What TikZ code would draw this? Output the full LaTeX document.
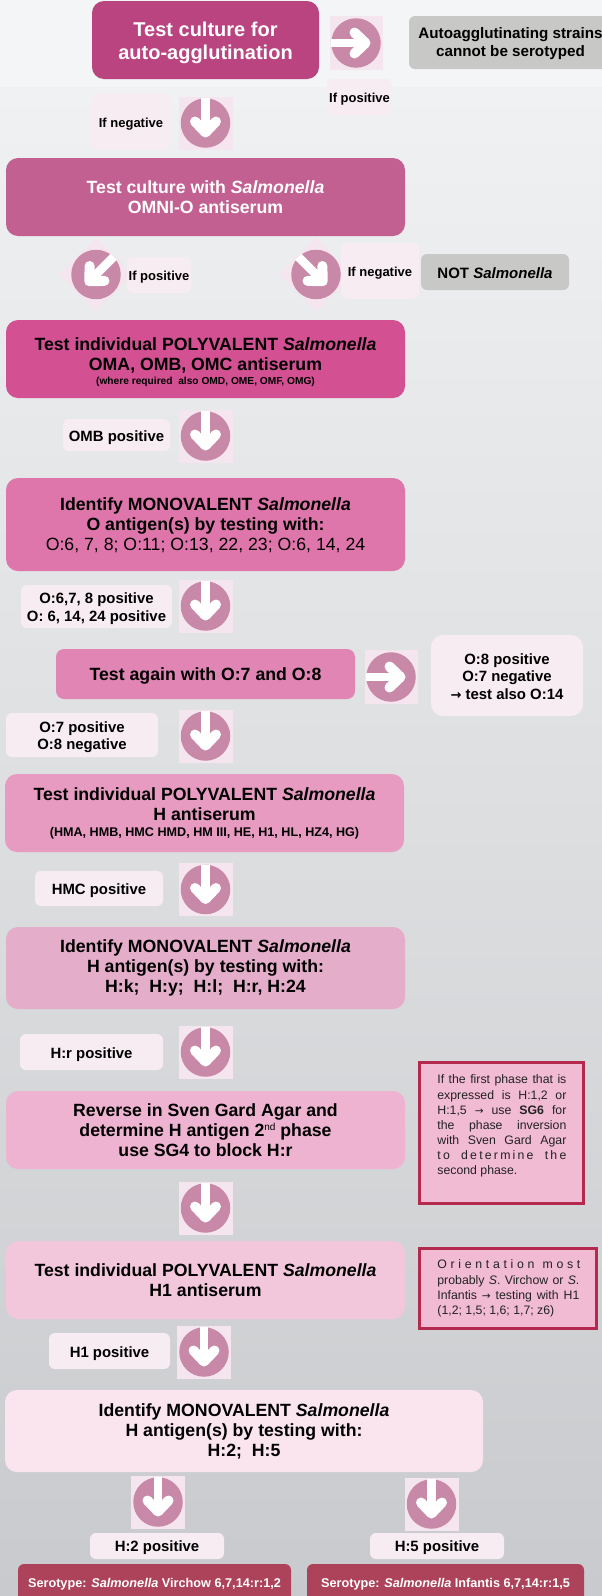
\documentclass[tikz,border=0pt]{standalone}
\usepackage{fontspec}
\setmainfont{Liberation Sans}
\newfontfamily\arrowf{DejaVu Sans}
\definecolor{bandtop}{HTML}{F3F5F6}
\definecolor{bgtop}{HTML}{F0F1F2}
\definecolor{bgbot}{HTML}{C8CACD}
\definecolor{iconbg}{HTML}{F5E5EE}
\definecolor{iconfg}{HTML}{C888A8}
\definecolor{labelbg}{HTML}{F7ECF1}
\definecolor{greybox}{HTML}{C8C8C6}
\definecolor{notebg}{HTML}{F2BBD4}
\definecolor{noteln}{HTML}{B5294F}
\definecolor{serot}{HTML}{AD435B}
\definecolor{notetx}{HTML}{222222}
\newcommand{\sal}{\textit{Salmonella}}
\newcommand{\arw}{{\arrowf\fontsize{10.5}{10}\selectfont →}}
\newcommand{\flowbox}[8][0]{%
  \pgfmathsetmacro\fbw{#5-#3}\pgfmathsetmacro\fbh{#6-#4}%
  \pgfmathsetmacro\fbx{(#5+#3)/2}\pgfmathsetmacro\fby{(#6+#4)/2}%
  \node[#7,minimum width=\fbw pt,minimum height=\fbh pt] (#2) at (\fbx,\fby) {};
  \node[#7,fill=none,draw=none,yshift=-#1pt] (#2t) at (\fbx,\fby) {#8};}
\newcommand{\arrowicon}[5][27]{%
  \begin{scope}[shift={(#3,#4)},rotate=#5]
    \fill[iconbg] (-#1,-26.5) rectangle (#1,26.5);
    \node[iconcirc] (#2) at (0,0) {};
    \draw[iconstem] (0,-25) -- (0,8);
    \draw[iconhead] (-10.5,-1.5) -- (0,9.5) -- (10.5,-1.5);
  \end{scope}}
\tikzset{
  x=1pt,y=-1pt,
  iconcirc/.style={circle,fill=iconfg,minimum size=49.5pt,inner sep=0,outer sep=0},
  iconstem/.style={white,line width=8.5pt},
  iconhead/.style={white,line width=10pt,line join=round,line cap=round},
  base/.style={rounded corners=#1,inner sep=0,outer sep=0,align=center,text=black},
  flow/.style={base=12pt,font=\fontsize{17.7}{20}\selectfont\bfseries},
  lab/.style={base=6pt,fill=labelbg,font=\fontsize{13}{15}\selectfont\bfseries},
  labwide/.style={lab,font=\fontsize{14.9}{17.5}\selectfont\bfseries},
  grey/.style={base=6pt,fill=greybox,font=\fontsize{15.2}{18}\selectfont\bfseries},
  noteb/.style={draw=noteln,line width=3pt,fill=notebg,inner sep=0,outer sep=0},
  notet/.style={inner sep=0,outer sep=0,anchor=north west,align=left,text=notetx,font=\fontsize{12.3}{15.1}\selectfont},
  sero/.style={base=6pt,fill=serot,text=white,font=\fontsize{12.7}{14}\selectfont\bfseries},
}
\begin{document}
\begin{tikzpicture}
\useasboundingbox (0,0) rectangle (602,1596);
\clip (0,0) rectangle (602,1596);
\shade[top color=bgtop,bottom color=bgbot] (0,87) rectangle (602,1596);
\fill[bandtop] (0,0) rectangle (602,87);

\arrowicon{i1}{356}{43}{90}
\arrowicon{i2}{205.5}{123}{0}
\arrowicon[26]{i3}{96}{274.5}{-45}
\arrowicon[26]{i4}{316}{274.5}{45}
\arrowicon{i5}{205.5}{436}{0}
\arrowicon{i6}{205.5}{606}{0}
\arrowicon{i7}{391}{677}{90}
\arrowicon{i8}{205.5}{736}{0}
\arrowicon{i9}{205.5}{889.5}{0}
\arrowicon{i10}{205.5}{1052}{0}
\arrowicon{i11}{205.5}{1208}{0}
\arrowicon{i12}{204}{1352}{0}
\arrowicon{i13}{158}{1502}{0}
\arrowicon{i14}{431.5}{1504}{0}

\flowbox[3]{b1}{92}{1}{319}{79}{flow,fill={rgb,255:red,185;green,68;blue,127},text=white,font=\fontsize{20}{23}\selectfont\bfseries}{Test culture for\\auto-agglutination}
\flowbox[1]{g1}{409}{16}{612}{69}{grey}{Autoagglutinating strains\\cannot be serotyped}
\flowbox[2.5]{l1}{327}{79}{392}{115}{lab}{If positive}
\flowbox[2.5]{l2}{92}{94}{170}{150}{lab}{If negative}
\flowbox{b2}{6}{158}{405}{236}{flow,fill={rgb,255:red,194;green,96;blue,146},text=white}{Test culture with \sal\\OMNI-O antiserum}
\flowbox[2.5]{l3}{127}{257}{191}{293}{lab}{If positive}
\flowbox[2.5]{l4}{341}{243}{419}{299}{lab}{If negative}
\flowbox[1]{g2}{421}{254}{569}{290}{grey,font=\fontsize{15}{18}\selectfont\bfseries}{NOT \sal}
\flowbox[3]{b3}{6}{320}{405}{398}{flow,fill={rgb,255:red,211;green,80;blue,147}}{Test individual POLYVALENT \sal\\OMA, OMB, OMC antiserum\\[-6pt]{\fontsize{10.2}{11}\selectfont (where required\ \ also OMD, OME, OMF, OMG)}}
\flowbox[2.5]{l5}{63}{419}{170}{451}{labwide}{OMB positive}
\flowbox[1]{b4}{6}{478}{405}{571}{flow,fill={rgb,255:red,223;green,118;blue,171}}{Identify MONOVALENT \sal\\O antigen(s) by testing with:\\{\mdseries O:6, 7, 8; O:11; O:13, 22, 23; O:6, 14, 24}}
\flowbox[2]{l6}{21}{585}{172}{628}{labwide}{O:6,7, 8 positive\\O: 6, 14, 24 positive}
\flowbox[2]{b5}{56}{649}{355}{699}{flow,base=8pt,fill={rgb,255:red,225;green,133;blue,181}}{Test again with O:7 and O:8}
\flowbox[1]{l7}{431}{635}{583}{716}{labwide,base=12pt}{O:8 positive\\O:7 negative\\{\arrowf\fontsize{13}{10}\selectfont →} test also O:14}
\flowbox[2]{l8}{6}{713}{158}{757}{labwide}{O:7 positive\\O:8 negative}
\flowbox{b6}{5}{774}{404}{852}{flow,fill={rgb,255:red,231;green,155;blue,193}}{Test individual POLYVALENT \sal\\H antiserum\\[-4pt]{\fontsize{12.6}{12}\selectfont (HMA, HMB, HMC HMD, HM III, HE, H1, HL, HZ4, HG)}}
\flowbox[2.5]{l9}{35}{871}{163}{906}{labwide}{HMC positive}
\flowbox{b7}{6}{927}{405}{1009}{flow,fill={rgb,255:red,228;green,173;blue,201}}{Identify MONOVALENT \sal\\H antigen(s) by testing with:\\H:k;\ \ H:y;\ \ H:l;\ \ H:r, H:24}
\flowbox[2.5]{l10}{20}{1034}{163}{1070}{labwide}{H:r positive}
\flowbox{b8}{6}{1091}{405}{1169}{flow,fill={rgb,255:red,238;green,179;blue,209}}{Reverse in Sven Gard Agar and\\determine H antigen 2\raisebox{5.5pt}{\fontsize{10}{10}\selectfont\mdseries nd} phase\\use SG4 to block H:r}
\flowbox{b9}{6}{1241}{405}{1319}{flow,fill={rgb,255:red,243;green,199;blue,219}}{Test individual POLYVALENT \sal\\H1 antiserum}
\flowbox[2.5]{l11}{49}{1333}{170}{1369}{labwide}{H1 positive}
\flowbox{b10}{5}{1390}{483}{1472}{flow,fill={rgb,255:red,250;green,229;blue,239}}{Identify MONOVALENT \sal\\H antigen(s) by testing with:\\H:2;\ \ H:5}
\flowbox[2]{l12}{90}{1533}{224}{1559}{labwide}{H:2 positive}
\flowbox[2]{l13}{370}{1533}{504}{1559}{labwide}{H:5 positive}
\flowbox{s1}{18}{1564}{291}{1604}{sero}{Serotype: \sal\ Virchow 6,7,14:r:1,2}
\flowbox{s2}{307}{1564}{584}{1604}{sero}{Serotype: \sal\ Infantis 6,7,14:r:1,5}

\flowbox{n1}{419.5}{1062.5}{583.2}{1203}{noteb}{}
\node[notet] (n1t2) at (437.4,1075) {%
\makebox[129pt][s]{If the first phase that is}\\
\makebox[129pt][s]{expressed is H:1,2 or}\\
\makebox[129pt][s]{H:1,5 \arw\ use \textbf{SG6} for}\\
\makebox[129pt][s]{the phase inversion}\\
\makebox[129pt][s]{with Sven Gard Agar}\\
\makebox[129pt][s]{\addfontfeature{LetterSpace=18}to determine the}\\
second phase.};
\flowbox{n2}{419.5}{1248.5}{596.5}{1328.5}{noteb}{}
\node[notet] (n2t2) at (437.4,1260) {%
\makebox[143pt][s]{\addfontfeature{LetterSpace=30}Orientation most}\\
\makebox[142pt][s]{probably \textit{S}. Virchow or \textit{S}.}\\
\makebox[142pt][s]{Infantis \arw\ testing with H1}\\
(1,2; 1,5; 1,6; 1,7; z6)};
\end{tikzpicture}
\end{document}
